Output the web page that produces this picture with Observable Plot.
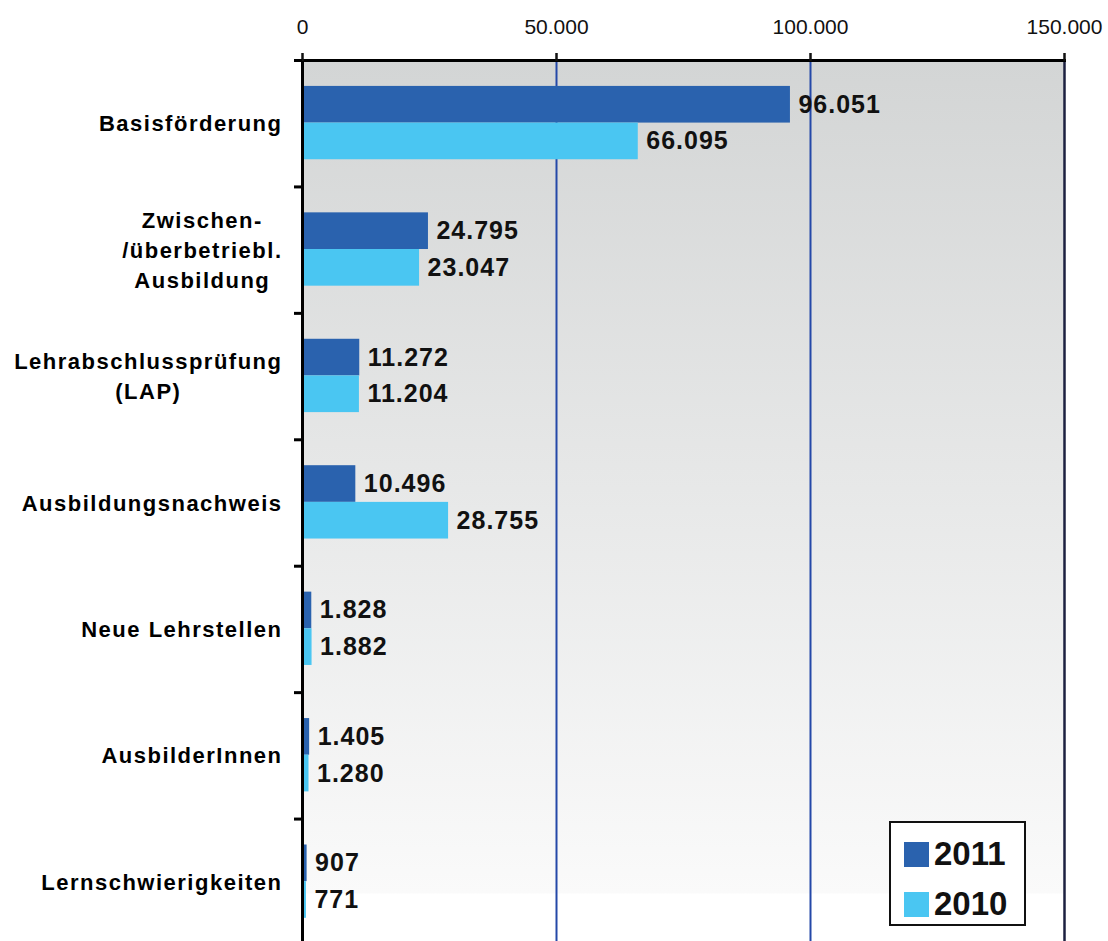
<!DOCTYPE html>
<html>
<head>
<meta charset="utf-8">
<script src="https://cdn.jsdelivr.net/npm/d3@7"></script>
<script src="https://cdn.jsdelivr.net/npm/@observablehq/plot@0.6"></script>
<style>
  html, body { margin: 0; padding: 0; background: #fff; overflow: hidden; }
  #wrap { position: relative; width: 1108px; height: 941px; font-family: "Liberation Sans", Arial, Helvetica, sans-serif; }
  #legend { position: absolute; left: 889px; top: 821px; width: 133px; height: 101px; border: 2.5px solid #111; background: #fff; }
  .lg-item { position: absolute; left: 13px; display: flex; align-items: center; font-weight: bold; font-size: 33px; color: #111; }
  .lg-sw { width: 25px; height: 25px; margin-right: 5px; }
</style>
</head>
<body>
<div id="wrap"><div id="chart"></div><div id="legend"></div></div>
<script>
const categories = ["Basisförderung", "Zwischen-/überbetriebl. Ausbildung", "Lehrabschlussprüfung (LAP)", "Ausbildungsnachweis", "Neue Lehrstellen", "AusbilderInnen", "Lernschwierigkeiten"];
const categoryLabels = ["Basisförderung", "Zwischen-\n/überbetriebl.\nAusbildung", "Lehrabschlussprüfung\n(LAP)", "Ausbildungsnachweis", "Neue Lehrstellen", "AusbilderInnen", "Lernschwierigkeiten"];
const series = ["2011", "2010"];
const values2011 = [96051, 24795, 11272, 10496, 1828, 1405, 907];
const values2010 = [66095, 23047, 11204, 28755, 1882, 1280, 771];
const xTicks = [0, 50000, 100000, 150000];
const colors = {"2011": "#2a62ae", "2010": "#4ac6f2"};

const fmt = d => d3.format(",")(d).replace(/,/g, ".");
const d2011 = categories.map((c, i) => ({category: c, value: values2011[i]}));
const d2010 = categories.map((c, i) => ({category: c, value: values2010[i]}));
const labelOf = new Map(categories.map((c, i) => [c, categoryLabels[i]]));

const H = 945, mt = 60;
const step = (H - mt) / categories.length;
const pad = step * 0.205, bar = step * 0.29;

const chart = Plot.plot({
  width: 1108,
  height: H,
  marginTop: mt,
  marginLeft: 302,
  marginRight: 44,
  marginBottom: 0,
  style: {fontFamily: "Liberation Sans, Arial, Helvetica, sans-serif", background: "transparent", overflow: "visible"},
  x: {domain: [0, 150000], ticks: xTicks, label: null},
  y: {domain: categories, padding: 0, round: false, label: null},
  marks: [
    Plot.frame({fill: "url(#bggrad)", stroke: "none"}),
    Plot.ruleX([50000, 100000], {stroke: "#2448a8", strokeWidth: 2}),
    Plot.ruleX([150000], {stroke: "#1c2040", strokeWidth: 2.5}),
    Plot.barX(d2011, {x: "value", y: "category", fill: colors["2011"], insetTop: pad, insetBottom: step - pad - bar}),
    Plot.barX(d2010, {x: "value", y: "category", fill: colors["2010"], insetTop: pad + bar, insetBottom: step - pad - 2 * bar}),
    Plot.text(d2011, {x: "value", y: "category", text: d => fmt(d.value), dy: -(step / 2 - pad - bar / 2), dx: 8, textAnchor: "start", fontSize: 25, fontWeight: "bold", fill: "#111"}),
    Plot.text(d2010, {x: "value", y: "category", text: d => fmt(d.value), dy: (pad + 1.5 * bar - step / 2), dx: 8, textAnchor: "start", fontSize: 25, fontWeight: "bold", fill: "#111"}),
    Plot.ruleX([0], {stroke: "#000", strokeWidth: 3}),
    Plot.frame({anchor: "top", stroke: "#000", strokeWidth: 3}),
    Plot.axisX({anchor: "top", ticks: xTicks, tickFormat: fmt, tickSize: 8, tickPadding: 19, fontSize: 21, strokeWidth: 2.5, color: "#111", label: null}),
    Plot.axisY({anchor: "left", tickSize: 8, tickFormat: () => "", dy: -step / 2, strokeWidth: 3, color: "#000", label: null}),
    Plot.axisY({anchor: "left", tickSize: 0, tickPadding: 20, dy: -2, tickFormat: d => labelOf.get(d), fontSize: 22, fontWeight: "bold", lineHeight: 1.36, textAnchor: "end", color: "#000", label: null})
  ]
});

document.getElementById("chart").appendChild(chart);

// gradient background definition
const svg = d3.select(chart);
const defs = svg.insert("defs", ":first-child");
const g = defs.append("linearGradient").attr("id", "bggrad").attr("gradientUnits", "userSpaceOnUse")
  .attr("x1", 0).attr("y1", mt).attr("x2", 0).attr("y2", 941);
g.append("stop").attr("offset", 0).attr("stop-color", "#d3d5d5");
g.append("stop").attr("offset", 0.945).attr("stop-color", "#fafafa");
g.append("stop").attr("offset", 0.946).attr("stop-color", "#ffffff");
g.append("stop").attr("offset", 1).attr("stop-color", "#ffffff");

// letter spacing and centered multi-line category labels
svg.selectAll('g[aria-label="y-axis tick label"] text').each(function() {
  const t = d3.select(this).style("letter-spacing", "1.5px");
  const spans = t.selectAll("tspan").nodes();
  if (spans.length > 1) {
    const w = d3.max(spans, s => s.getComputedTextLength());
    t.attr("text-anchor", "middle");
    spans.forEach(s => s.setAttribute("x", -w / 2));
  }
});
svg.selectAll('g[aria-label="text"] text').style("letter-spacing", "1px");

// legend
const legend = d3.select("#legend");
series.forEach((s, i) => {
  const item = legend.append("div").attr("class", "lg-item").style("top", (i === 0 ? 12 : 62) + "px");
  item.append("div").attr("class", "lg-sw").style("background", colors[s]);
  item.append("span").text(s);
});
</script>
</body>
</html>
